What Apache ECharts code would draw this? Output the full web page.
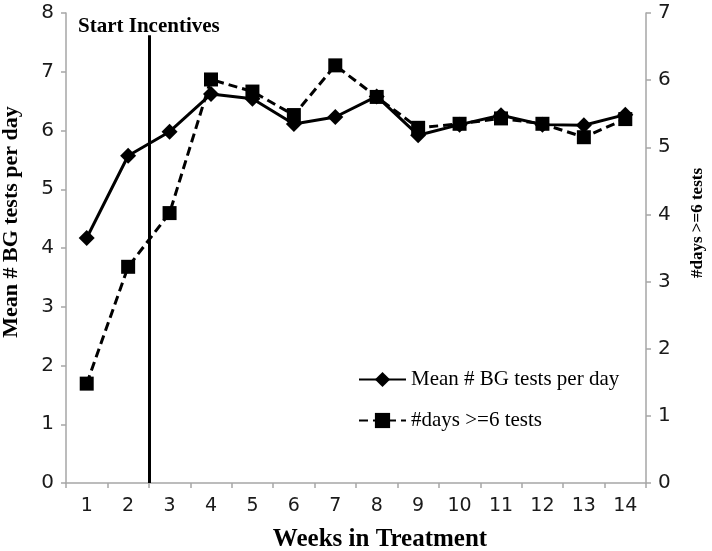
<!DOCTYPE html>
<html>
<head>
<meta charset="utf-8">
<script src="https://cdn.jsdelivr.net/npm/echarts@6/dist/echarts.min.js"></script>
<style>
html,body{margin:0;padding:0;background:#fff;}
#chart{width:712px;height:551px;}
</style>
</head>
<body>
<div id="chart"></div>
<script>
const weeks = ['1','2','3','4','5','6','7','8','9','10','11','12','13','14'];
const meanTests = [4.17, 5.57, 5.98, 6.62, 6.54, 6.11, 6.23, 6.58, 5.92, 6.10, 6.26, 6.10, 6.09, 6.27];
const daysSixTests = [1.48, 3.22, 4.02, 6.01, 5.83, 5.48, 6.22, 5.75, 5.29, 5.35, 5.43, 5.35, 5.15, 5.42];
const leftTicks = [0, 8, 1];   // min, max, interval
const rightTicks = [0, 7, 1];
const incentiveStart = 2.5;    // boundary between week 2 and week 3
const incentiveLineTop = 7.62; // height of the marker line on the left axis
const seriesNames = ['Mean # BG tests per day', '#days >=6 tests'];

const serif = '"Liberation Serif", "Times New Roman", serif';
const sans = '"DejaVu Sans", sans-serif';
const axisGray = '#a6a6a6';

const chart = echarts.init(document.getElementById('chart'), null, {renderer: 'canvas'});
chart.setOption({
  animation: false,
  backgroundColor: '#fff',
  grid: {left: 66, right: 66, top: 13, bottom: 68, containLabel: false, outerBoundsMode: 'none'},
  legend: {
    orient: 'vertical',
    left: 353,
    top: 364,
    itemWidth: 47,
    itemHeight: 19,
    itemGap: 20,
    data: seriesNames,
    textStyle: {fontFamily: serif, fontSize: 21, color: '#000'}
  },
  xAxis: [{
    type: 'category',
    data: weeks,
    boundaryGap: true,
    name: 'Weeks in Treatment',
    nameLocation: 'middle',
    nameGap: 44,
    nameTextStyle: {fontFamily: serif, fontWeight: 'bold', fontSize: 25, color: '#000', padding: [0, 0, 0, 48]},
    axisLine: {lineStyle: {color: axisGray, width: 1.5}},
    axisTick: {show: true, length: 5, inside: false, alignWithLabel: false, lineStyle: {color: axisGray, width: 1.5}},
    axisLabel: {fontFamily: sans, fontSize: 19, color: '#1a1a1a', margin: 14},
    splitLine: {show: false}
  }, {
    type: 'value',
    min: 0.5,
    max: 14.5,
    show: false
  }],
  yAxis: [{
    type: 'value',
    min: leftTicks[0], max: leftTicks[1], interval: leftTicks[2],
    position: 'left',
    name: seriesNames[0],
    nameLocation: 'middle',
    nameRotate: 90,
    nameGap: 44,
    nameTextStyle: {fontFamily: serif, fontWeight: 'bold', fontSize: 22, color: '#000', padding: [0, 0, 0, 52]},
    axisLine: {show: true, lineStyle: {color: axisGray, width: 1.5}},
    axisTick: {show: true, length: 5, lineStyle: {color: axisGray, width: 1.5}},
    axisLabel: {fontFamily: sans, fontSize: 20, color: '#1a1a1a', margin: 12},
    splitLine: {show: false}
  }, {
    type: 'value',
    min: rightTicks[0], max: rightTicks[1], interval: rightTicks[2],
    position: 'right',
    name: seriesNames[1],
    nameLocation: 'middle',
    nameRotate: 90,
    nameGap: 43,
    nameTextStyle: {fontFamily: serif, fontWeight: 'bold', fontSize: 17, color: '#000', padding: [0, 0, 0, 50]},
    axisLine: {show: true, lineStyle: {color: axisGray, width: 1.5}},
    axisTick: {show: true, length: 5, lineStyle: {color: axisGray, width: 1.5}},
    axisLabel: {fontFamily: sans, fontSize: 20, color: '#1a1a1a', margin: 12},
    splitLine: {show: false}
  }],
  series: [{
    name: seriesNames[0],
    type: 'line',
    xAxisIndex: 0, yAxisIndex: 0,
    data: meanTests,
    symbol: 'diamond',
    symbolSize: 16,
    showAllSymbol: true,
    lineStyle: {color: '#000', width: 3},
    itemStyle: {color: '#000', borderWidth: 0},
    z: 3
  }, {
    name: seriesNames[1],
    type: 'line',
    xAxisIndex: 0, yAxisIndex: 1,
    data: daysSixTests,
    symbol: 'rect',
    symbolSize: 14,
    showAllSymbol: true,
    lineStyle: {color: '#000', width: 3, type: [9, 5]},
    itemStyle: {color: '#000', borderWidth: 0},
    z: 4
  }, {
    name: 'incentive',
    type: 'line',
    xAxisIndex: 1, yAxisIndex: 0,
    data: [],
    silent: true,
    markLine: {
      silent: true,
      symbol: ['none', 'none'],
      animation: false,
      lineStyle: {color: '#000', width: 3, type: 'solid'},
      label: {
        show: true,
        position: 'end',
        distance: -2,
        formatter: 'Start Incentives',
        fontFamily: serif, fontWeight: 'bold', fontSize: 21, color: '#000'
      },
      data: [[{coord: [incentiveStart, 0]}, {coord: [incentiveStart, incentiveLineTop]}]]
    }
  }]
});
</script>
</body>
</html>
